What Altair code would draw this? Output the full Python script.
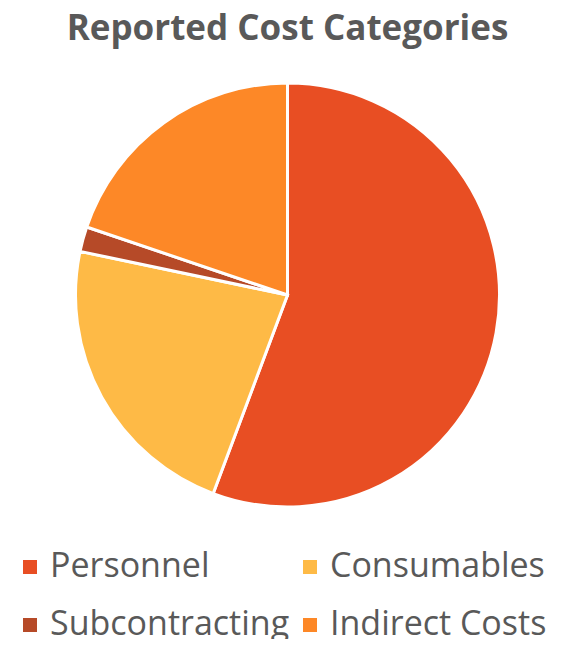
import altair as alt
import pandas as pd

categories = ["Personnel", "Consumables", "Subcontracting", "Indirect Costs"]
shares = [55.7, 22.6, 1.9, 19.8]
colors = ["#E84E23", "#FEBA46", "#B64A28", "#FD8827"]

df = pd.DataFrame({
    "category": categories,
    "share": shares,
    "order": list(range(len(categories))),
})

FONT = "Open Sans"
GREY = "#595959"

chart = (
    alt.Chart(df)
    .mark_arc(outerRadius=212, stroke="white", strokeWidth=3)
    .encode(
        theta=alt.Theta("share:Q", stack=True),
        order=alt.Order("order:Q"),
        color=alt.Color(
            "category:N",
            sort=categories,
            scale=alt.Scale(domain=categories, range=colors),
            legend=alt.Legend(
                title=None,
                orient="none",
                direction="horizontal",
                legendX=-5,
                legendY=467,
                padding=0,
                columns=2,
                columnPadding=3,
                rowPadding=24,
                symbolType="square",
                symbolSize=196,
                symbolStrokeWidth=0,
                labelFont=FONT,
                labelFontSize=34,
                labelColor=GREY,
                labelOffset=3,
                labelLimit=400,
            ),
        ),
        tooltip=["category:N", "share:Q"],
    )
    .properties(
        width=539,
        height=424,
        autosize=alt.AutoSizeParams(type="none"),
        padding={"top": 75, "left": 10, "right": 0, "bottom": 132},
        title=alt.TitleParams(
            "Reported Cost Categories",
            font=FONT,
            fontSize=35,
            fontWeight="bold",
            color=GREY,
            anchor="middle",
            offset=30,
        ),
    )
    .configure_view(stroke=None)
)

chart.save("out.html", embed_options={"renderer": "svg", "actions": False})
